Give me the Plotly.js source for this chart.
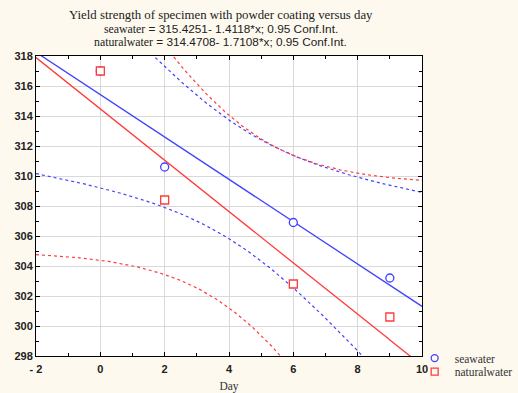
<!DOCTYPE html>
<html><head><meta charset="utf-8">
<script src="https://cdn.plot.ly/plotly-3.0.1.min.js"></script>
<style>html,body{margin:0;padding:0;background:#fdf9ee;}#chart{width:518px;height:393px;}</style>
</head><body><div id="chart"></div>
<script>
// ---- data ----
const days = [0, 2, 6, 9];
const seawater = [317.0, 310.6, 306.9, 303.2];      // blue circles (day 0 point hidden under the red square)
const naturalwater = [317.0, 308.4, 302.8, 300.6];  // red squares
const seriesNames = ['seawater', 'naturalwater'];
const xTickVals = [-2, 0, 2, 4, 6, 8, 10];
const xTickText = ['- 2', '0', '2', '4', '6', '8', '10'];
const yTickVals = [298, 300, 302, 304, 306, 308, 310, 312, 314, 316, 318];
const tCrit = 4.303; // Student t, 0.975 quantile, 2 degrees of freedom (n-2) -> 0.95 Conf.Int.

// ---- linear regression with 95% confidence band for the mean ----
function fit(x, y) {
  const n = x.length;
  const xm = x.reduce((a, b) => a + b, 0) / n;
  const ym = y.reduce((a, b) => a + b, 0) / n;
  let sxx = 0, sxy = 0;
  for (let i = 0; i < n; i++) { sxx += (x[i] - xm) ** 2; sxy += (x[i] - xm) * (y[i] - ym); }
  const b = sxy / sxx, a = ym - b * xm;
  let sse = 0;
  for (let i = 0; i < n; i++) sse += (y[i] - (a + b * x[i])) ** 2;
  const s = Math.sqrt(sse / (n - 2));
  return { a, b, band: (xv) => tCrit * s * Math.sqrt(1 / n + (xv - xm) ** 2 / sxx) };
}
const xs = [];
for (let k = 0; k <= 240; k++) xs.push(-2 + k * 0.05);

const blue = '#4040ff', red = '#ff3b3b';
const colors = [blue, red];
const traces = [];
[seawater, naturalwater].forEach((ys, i) => {
  const f = fit(days, ys);
  traces.push({ x: xs, y: xs.map(v => f.a + f.b * v), mode: 'lines', line: { color: colors[i], width: 1.3 }, showlegend: false, hoverinfo: 'skip' });
  traces.push({ x: xs, y: xs.map(v => f.a + f.b * v + f.band(v)), mode: 'lines', line: { color: colors[i], width: 1.2, dash: 'dot' }, showlegend: false, hoverinfo: 'skip' });
  traces.push({ x: xs, y: xs.map(v => f.a + f.b * v - f.band(v)), mode: 'lines', line: { color: colors[i], width: 1.2, dash: 'dot' }, showlegend: false, hoverinfo: 'skip' });
});
const markerStyles = [
  { symbol: 'circle', size: 8, color: '#ffffff', line: { width: 1.3, color: blue } },
  { symbol: 'square', size: 8, color: '#ffffff', line: { width: 1.3, color: red } }
];
[seawater, naturalwater].forEach((ys, i) => {
  traces.push({ x: days, y: ys, mode: 'markers', marker: markerStyles[i], showlegend: false });
});
seriesNames.forEach((nm, i) => {
  traces.push({ x: [null], y: [null], name: nm, legend: i === 0 ? 'legend' : 'legend2', mode: 'markers',
                marker: Object.assign({}, markerStyles[i], { size: 7, color: 'rgba(0,0,0,0)' }) });
});

const serif = 'Liberation Serif, Times New Roman, serif';
const sans = 'Liberation Sans, Arial, sans-serif';
const axisCommon = {
  showgrid: true, gridcolor: '#d9d9d9', gridwidth: 1, zeroline: false,
  showline: true, linecolor: '#000', linewidth: 1, mirror: 'ticks',
  ticks: 'inside', ticklen: 4, tickcolor: '#000',
  minor: { dtick: 1, ticks: 'inside', ticklen: 3, tickcolor: '#000', showgrid: false },
  tickfont: { family: sans, size: 11, color: '#222', weight: 'bold' }
};
const legendCommon = { x: 0.981, xanchor: 'left', yanchor: 'middle', bgcolor: 'rgba(0,0,0,0)',
  font: { family: serif, size: 11.5, color: '#333' }, itemwidth: 30 };
const layout = {
  width: 518, height: 393,
  paper_bgcolor: '#fdf9ee', plot_bgcolor: '#ffffff',
  margin: { l: 36, r: 96, t: 56, b: 37, autoexpand: false },
  font: { family: sans, size: 11, color: '#222' },
  xaxis: Object.assign({}, axisCommon, {
    range: [-2, 10], tickvals: xTickVals, ticktext: xTickText, ticklabelstandoff: 3,
    title: { text: 'Day', font: { family: serif, size: 11.5, color: '#333' }, standoff: 7 }
  }),
  yaxis: Object.assign({}, axisCommon, { range: [298, 318], tickvals: yTickVals }),
  showlegend: true,
  legend: Object.assign({}, legendCommon, { y: -0.007 }),
  legend2: Object.assign({}, legendCommon, { y: -0.052 }),
  annotations: [
    { xref: 'paper', yref: 'paper', x: 0.478, y: 1.0, yshift: 41, xanchor: 'center', yanchor: 'middle', showarrow: false,
      text: 'Yield strength of specimen with powder coating versus day', font: { family: serif, size: 12.8, color: '#222' } },
    { xref: 'paper', yref: 'paper', x: 0.478, y: 1.0, yshift: 27.5, xanchor: 'center', yanchor: 'middle', showarrow: false,
      text: '<span style="font-family:Liberation Serif">seawater</span> = 315.4251- 1.4118*x; 0.95 Conf.Int.', font: { family: sans, size: 11.8, color: '#222' } },
    { xref: 'paper', yref: 'paper', x: 0.478, y: 1.0, yshift: 14, xanchor: 'center', yanchor: 'middle', showarrow: false,
      text: '<span style="font-family:Liberation Serif">naturalwater</span> = 314.4708- 1.7108*x; 0.95 Conf.Int.', font: { family: sans, size: 11.8, color: '#222' } }
  ]
};
Plotly.newPlot('chart', traces, layout, { displayModeBar: false, staticPlot: true });
</script></body></html>
